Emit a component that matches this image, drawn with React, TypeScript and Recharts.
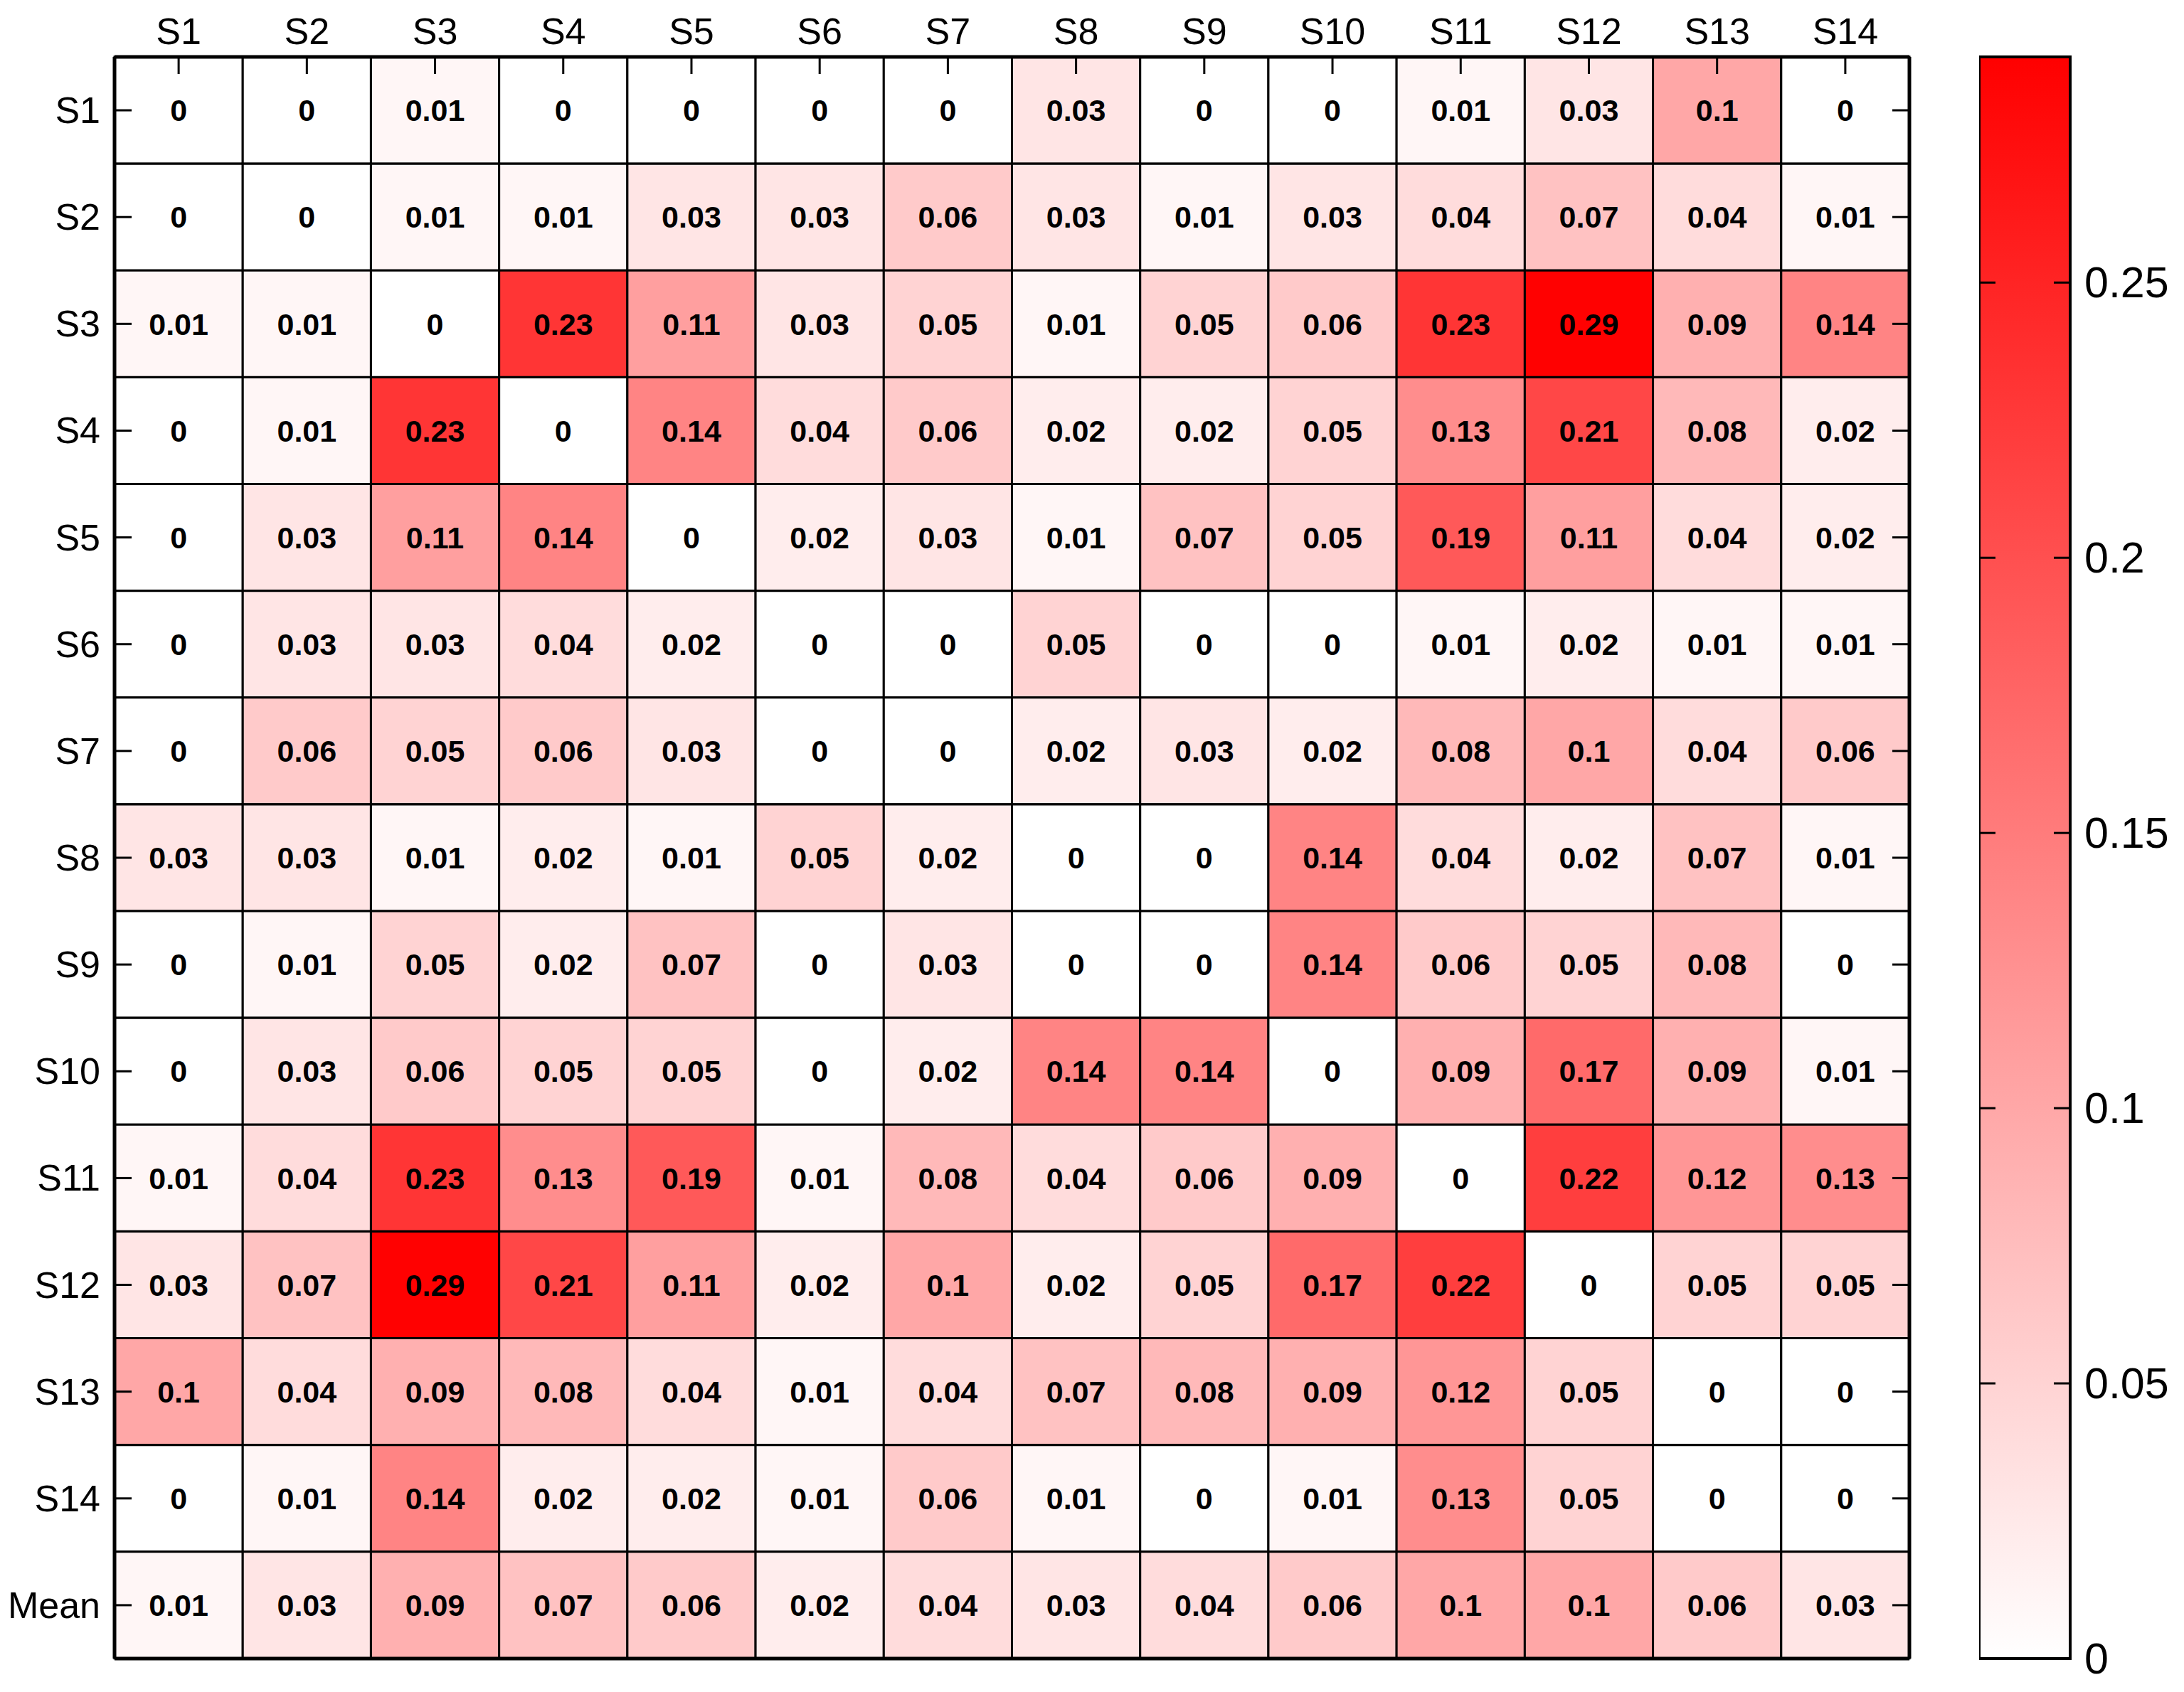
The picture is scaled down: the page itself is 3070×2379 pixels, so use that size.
import { Bar, BarChart, Cell, LabelList, XAxis, YAxis } from 'recharts';

const FONT = '"Liberation Sans", Arial, sans-serif';
const INK = '#000';
const W = 3070;
const H = 2379;

const colLabels = ['S1', 'S2', 'S3', 'S4', 'S5', 'S6', 'S7', 'S8', 'S9', 'S10', 'S11', 'S12', 'S13', 'S14'];
const rowLabels = [...colLabels, 'Mean'];

const s1 = [0, 0, 0.01, 0, 0, 0, 0, 0.03, 0, 0, 0.01, 0.03, 0.1, 0];
const s2 = [0, 0, 0.01, 0.01, 0.03, 0.03, 0.06, 0.03, 0.01, 0.03, 0.04, 0.07, 0.04, 0.01];
const s3 = [0.01, 0.01, 0, 0.23, 0.11, 0.03, 0.05, 0.01, 0.05, 0.06, 0.23, 0.29, 0.09, 0.14];
const s4 = [0, 0.01, 0.23, 0, 0.14, 0.04, 0.06, 0.02, 0.02, 0.05, 0.13, 0.21, 0.08, 0.02];
const s5 = [0, 0.03, 0.11, 0.14, 0, 0.02, 0.03, 0.01, 0.07, 0.05, 0.19, 0.11, 0.04, 0.02];
const s6 = [0, 0.03, 0.03, 0.04, 0.02, 0, 0, 0.05, 0, 0, 0.01, 0.02, 0.01, 0.01];
const s7 = [0, 0.06, 0.05, 0.06, 0.03, 0, 0, 0.02, 0.03, 0.02, 0.08, 0.1, 0.04, 0.06];
const s8 = [0.03, 0.03, 0.01, 0.02, 0.01, 0.05, 0.02, 0, 0, 0.14, 0.04, 0.02, 0.07, 0.01];
const s9 = [0, 0.01, 0.05, 0.02, 0.07, 0, 0.03, 0, 0, 0.14, 0.06, 0.05, 0.08, 0];
const s10 = [0, 0.03, 0.06, 0.05, 0.05, 0, 0.02, 0.14, 0.14, 0, 0.09, 0.17, 0.09, 0.01];
const s11 = [0.01, 0.04, 0.23, 0.13, 0.19, 0.01, 0.08, 0.04, 0.06, 0.09, 0, 0.22, 0.12, 0.13];
const s12 = [0.03, 0.07, 0.29, 0.21, 0.11, 0.02, 0.1, 0.02, 0.05, 0.17, 0.22, 0, 0.05, 0.05];
const s13 = [0.1, 0.04, 0.09, 0.08, 0.04, 0.01, 0.04, 0.07, 0.08, 0.09, 0.12, 0.05, 0, 0];
const s14 = [0, 0.01, 0.14, 0.02, 0.02, 0.01, 0.06, 0.01, 0, 0.01, 0.13, 0.05, 0, 0];
const mean = [0.01, 0.03, 0.09, 0.07, 0.06, 0.02, 0.04, 0.03, 0.04, 0.06, 0.1, 0.1, 0.06, 0.03];

const matrix = [s1, s2, s3, s4, s5, s6, s7, s8, s9, s10, s11, s12, s13, s14, mean];

// top of the colour scale (unrounded max of the matrix)
const COLOR_MAX = 0.291;
const scaleTicks = [0, 0.05, 0.1, 0.15, 0.2, 0.25];
const colTicks = colLabels.map((_, j) => j + 0.5);

// each row: one unit-wide stacked segment per column, value kept for colour + label
const table = rowLabels.map((row, i) => {
  const rec: Record<string, string | number> = { row };
  matrix[i].forEach((v, j) => {
    rec[`u${j}`] = 1;
    rec[`v${j}`] = v;
  });
  return rec;
});

function heat(v: number) {
  const t = Math.max(0, Math.min(1, v / COLOR_MAX));
  const g = Math.round(255 * (1 - t));
  return `rgb(255,${g},${g})`;
}

const TICK_LEN = 24;

function TopTick({ x, y, payload }: any) {
  return (
    <g>
      <line x1={x} y1={y} x2={x} y2={y + TICK_LEN} stroke={INK} strokeWidth={3} />
      <text x={x} y={y - 18} textAnchor="middle" fontSize={52} fontFamily={FONT} fill={INK}>
        {colLabels[Math.floor(payload.value)]}
      </text>
    </g>
  );
}

function BottomTick({ x, y }: any) {
  return <line x1={x} y1={y} x2={x} y2={y - TICK_LEN} stroke={INK} strokeWidth={3} />;
}

function LeftTick({ x, y, payload }: any) {
  return (
    <g>
      <line x1={x} y1={y} x2={x + TICK_LEN} y2={y} stroke={INK} strokeWidth={3} />
      <text x={x - 20} y={y} textAnchor="end" dominantBaseline="central" fontSize={52} fontFamily={FONT} fill={INK}>
        {payload.value}
      </text>
    </g>
  );
}

function RightTick({ x, y }: any) {
  return <line x1={x} y1={y} x2={x - TICK_LEN} y2={y} stroke={INK} strokeWidth={3} />;
}

const BAR_W = 128;

function ScaleTick({ x, y, payload }: any) {
  return (
    <g>
      <line x1={x} y1={y} x2={x - 23} y2={y} stroke={INK} strokeWidth={3} />
      <line x1={x - BAR_W} y1={y} x2={x - BAR_W + 23} y2={y} stroke={INK} strokeWidth={3} />
      <text x={x + 20} y={y} textAnchor="start" dominantBaseline="central" fontSize={61} fontFamily={FONT} fill={INK}>
        {String(payload.value)}
      </text>
    </g>
  );
}

function Heatmap() {
  return (
    <BarChart
      width={W}
      height={H}
      data={table}
      layout="vertical"
      barCategoryGap={0}
      barGap={0}
      margin={{ top: 0, right: 0, bottom: 0, left: 0 }}
    >
      <XAxis
        xAxisId="top"
        orientation="top"
        type="number"
        domain={[0, 14]}
        ticks={colTicks}
        height={80}
        tickSize={0}
        tickMargin={0}
        tickLine={false}
        axisLine={{ stroke: INK, strokeWidth: 5 }}
        tick={<TopTick />}
        interval={0}
      />
      <XAxis
        xAxisId="bottom"
        orientation="bottom"
        type="number"
        domain={[0, 14]}
        ticks={colTicks}
        height={47}
        tickSize={0}
        tickMargin={0}
        tickLine={false}
        axisLine={{ stroke: INK, strokeWidth: 5 }}
        tick={<BottomTick />}
        interval={0}
      />
      <YAxis
        yAxisId="left"
        orientation="left"
        type="category"
        dataKey="row"
        width={161}
        tickSize={0}
        tickMargin={0}
        tickLine={false}
        axisLine={{ stroke: INK, strokeWidth: 5 }}
        tick={<LeftTick />}
        interval={0}
      />
      <YAxis
        yAxisId="right"
        orientation="right"
        type="category"
        dataKey="row"
        width={386}
        tickSize={0}
        tickMargin={0}
        tickLine={false}
        axisLine={{ stroke: INK, strokeWidth: 5 }}
        tick={<RightTick />}
        interval={0}
      />
      {colLabels.map((c, j) => (
        <Bar
          key={c}
          xAxisId="top"
          yAxisId="left"
          dataKey={`u${j}`}
          stackId="grid"
          stroke={INK}
          strokeWidth={3}
          isAnimationActive={false}
        >
          {table.map((r) => (
            <Cell key={r.row as string} fill={heat(r[`v${j}`] as number)} />
          ))}
          <LabelList
            dataKey={`v${j}`}
            position="center"
            fill={INK}
            fontSize={43}
            fontWeight="bold"
            fontFamily={FONT}
            formatter={(v: any) => String(v)}
          />
        </Bar>
      ))}
    </BarChart>
  );
}

function ColorBar() {
  return (
    <BarChart
      width={W - 2782}
      height={H}
      data={[{ name: 'scale', top: COLOR_MAX }]}
      barCategoryGap={0}
      margin={{ top: 80, right: 0, bottom: 47, left: 0 }}
    >
      <defs>
        <linearGradient id="redScale" x1="0" y1="1" x2="0" y2="0">
          <stop offset="0" stopColor="#ffffff" />
          <stop offset="1" stopColor="#ff0000" />
        </linearGradient>
      </defs>
      <XAxis dataKey="name" hide />
      <YAxis
        orientation="right"
        type="number"
        domain={[0, COLOR_MAX]}
        ticks={scaleTicks}
        width={W - 2782 - BAR_W}
        tickSize={0}
        tickMargin={0}
        tickLine={false}
        axisLine={false}
        tick={<ScaleTick />}
        interval={0}
      />
      <Bar dataKey="top" fill="url(#redScale)" stroke={INK} strokeWidth={4} isAnimationActive={false} />
    </BarChart>
  );
}

export default function App() {
  return (
    <div style={{ position: 'absolute', left: 0, top: 0, width: W, height: H, background: '#fff' }}>
      <div style={{ position: 'absolute', left: 0, top: 0 }}>
        <Heatmap />
      </div>
      <div style={{ position: 'absolute', left: 2782, top: 0 }}>
        <ColorBar />
      </div>
    </div>
  );
}
